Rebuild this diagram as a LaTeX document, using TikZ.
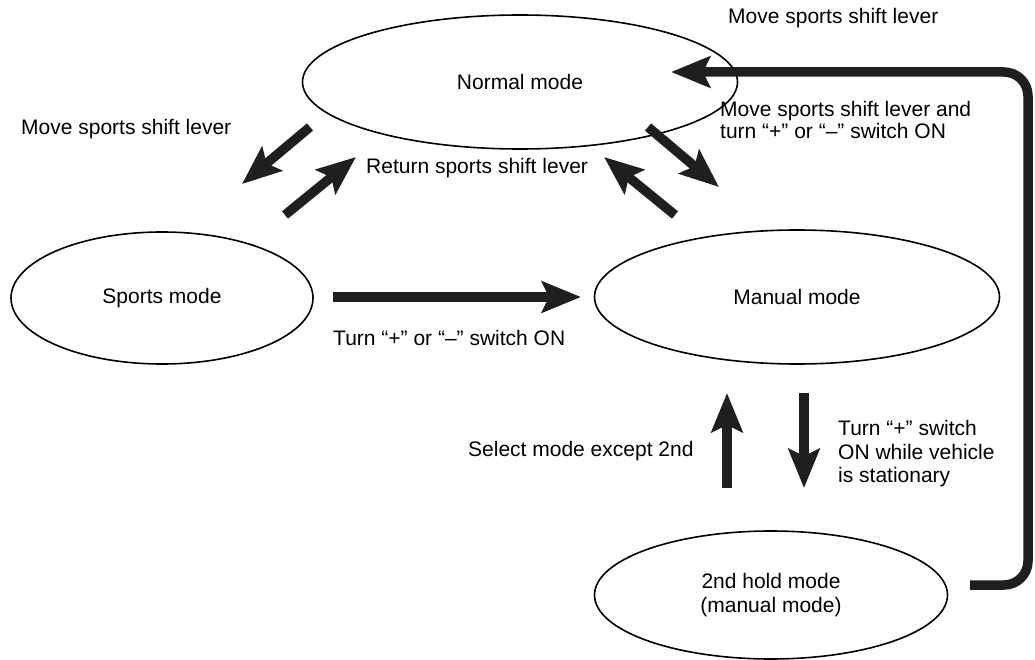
\documentclass[tikz,border=0pt]{standalone}
\usepackage{fontspec}
\setmainfont{Liberation Sans}
\usetikzlibrary{shapes.geometric,arrows.meta}
\begin{document}
\begin{tikzpicture}[x=1pt,y=-1pt,
  state/.style={draw,ellipse,line width=1.6pt,inner sep=0pt,font=\fontsize{21}{23.5}\selectfont,align=center},
  lbl/.style={font=\fontsize{21}{23.5}\selectfont,inner sep=0pt},
  bigarrow/.style={line width=9.5pt,-{Stealth[length=39pt,width=31pt,inset=7pt]},color=black!88},
]
\useasboundingbox (0,0) rectangle (1035,660);
\node[state,minimum width=435pt,minimum height=134pt] (normal) at (520,82) {Normal mode};
\node[state,minimum width=302pt,minimum height=132pt] (sports) at (162,298) {Sports mode};
\node[state,minimum width=405pt,minimum height=134pt] (manual) at (797,297) {Manual mode};
\node[state,minimum width=353pt,minimum height=128pt] (hold) at (771,595) {2nd hold mode\\(manual mode)};

% free-end coordinates
\coordinate (ns1) at (310,127); \coordinate (ns2) at (242,184);
\coordinate (sn1) at (285,215); \coordinate (sn2) at (356,157);
\coordinate (nm1) at (648,127); \coordinate (nm2) at (719,187);
\coordinate (mn1) at (675,215); \coordinate (mn2) at (604,157);
\coordinate (sm1) at (333,297); \coordinate (sm2) at (581,297);
\coordinate (mh1) at (804,393); \coordinate (mh2) at (804,488);
\coordinate (hm1) at (727,488); \coordinate (hm2) at (727,393);
\coordinate (hn1) at (970,585); \coordinate (hn2) at (1028,585);
\coordinate (hn3) at (1028,72); \coordinate (hn4) at (671,72);

\draw[bigarrow] (ns1) -- (ns2);
\draw[bigarrow] (sn1) -- (sn2);
\draw[bigarrow] (nm1) -- (nm2);
\draw[bigarrow] (mn1) -- (mn2);
\draw[bigarrow] (sm1) -- (sm2);
\draw[bigarrow] (mh1) -- (mh2);
\draw[bigarrow] (hm1) -- (hm2);
\draw[bigarrow,rounded corners=24pt] (hn1) -- (hn2) -- (hn3) -- (hn4);

\node[lbl,anchor=west] (l1) at (728,18) {Move sports shift lever};
\node[lbl,anchor=west] (l2) at (21,129) {Move sports shift lever};
\node[lbl,anchor=west,align=left,font=\fontsize{21}{22.5}\selectfont] (l3) at (720,120) {Move sports shift lever and\\turn “+” or “–” switch ON};
\node[lbl,anchor=west] (l4) at (366,168) {Return sports shift lever};
\node[lbl,anchor=west] (l5) at (333,338) {Turn “+” or “–” switch ON};
\node[lbl,anchor=west] (l6) at (468,451) {Select mode except 2nd};
\node[lbl,anchor=west,align=left,font=\fontsize{21}{23.5}\selectfont] (l7) at (838,454) {Turn “+” switch\\ON while vehicle\\is stationary};
\end{tikzpicture}
\end{document}
